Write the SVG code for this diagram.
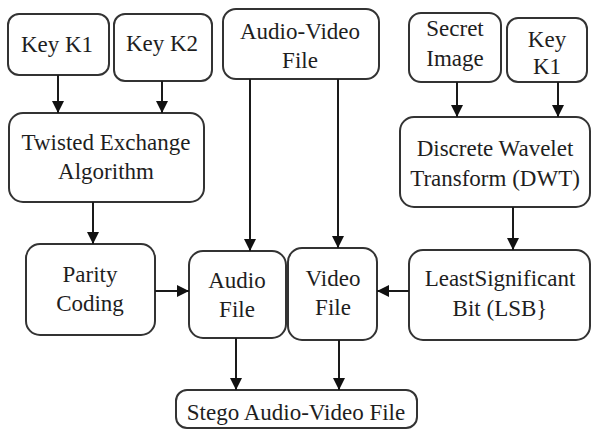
<svg xmlns="http://www.w3.org/2000/svg" width="592" height="432" viewBox="0 0 592 432">
  <style>
    .box { fill: #ffffff; stroke: #333333; stroke-width: 2; }
    .lbl { font-family: 'Liberation Serif', 'Times New Roman', serif; font-size: 23px; fill: #1e1e1e; text-anchor: middle; }
    .edge { stroke: #1a1a1a; stroke-width: 2; fill: none; marker-end: url(#arrow); }
  </style>
  <defs>
    <marker id="arrow" markerUnits="userSpaceOnUse" markerWidth="14" markerHeight="14" refX="12" refY="6" orient="auto">
      <path d="M0,0 L12,6 L0,12 z" fill="#111111"/>
    </marker>
  </defs>
  <rect width="592" height="432" fill="#ffffff"/>

  <g id="key-k1">
    <rect class="box" x="8" y="14" width="101" height="61" rx="11"/>
    <text class="lbl" x="57" y="52">Key K1</text>
  </g>
  <g id="key-k2">
    <rect class="box" x="114" y="14" width="98" height="67" rx="11"/>
    <text class="lbl" x="162" y="51">Key K2</text>
  </g>
  <g id="audio-video-file">
    <rect class="box" x="223" y="9" width="156" height="70" rx="13"/>
    <text class="lbl" x="300" y="39">Audio-Video</text>
    <text class="lbl" x="300" y="68">File</text>
  </g>
  <g id="secret-image">
    <rect class="box" x="409" y="13" width="92" height="69" rx="12"/>
    <text class="lbl" x="455" y="36">Secret</text>
    <text class="lbl" x="455" y="66">Image</text>
  </g>
  <g id="key-k1-b">
    <rect class="box" x="507" y="18" width="80" height="64" rx="11"/>
    <text class="lbl" x="547" y="47">Key</text>
    <text class="lbl" x="547" y="74">K1</text>
  </g>
  <g id="twisted-exchange">
    <rect class="box" x="9" y="113" width="195" height="89" rx="14"/>
    <text class="lbl" x="106" y="150">Twisted Exchange</text>
    <text class="lbl" x="106" y="179">Algorithm</text>
  </g>
  <g id="dwt">
    <rect class="box" x="400" y="117" width="190" height="90" rx="14"/>
    <text class="lbl" x="495" y="156">Discrete Wavelet</text>
    <text class="lbl" x="495" y="186">Transform (DWT)</text>
  </g>
  <g id="parity-coding">
    <rect class="box" x="26" y="244" width="129" height="91" rx="14"/>
    <text class="lbl" x="90" y="282">Parity</text>
    <text class="lbl" x="90" y="311">Coding</text>
  </g>
  <g id="audio-file">
    <rect class="box" x="189" y="251" width="97" height="87" rx="14"/>
    <text class="lbl" x="237" y="288">Audio</text>
    <text class="lbl" x="237" y="317">File</text>
  </g>
  <g id="video-file">
    <rect class="box" x="288" y="248" width="89" height="92" rx="14"/>
    <text class="lbl" x="333" y="286">Video</text>
    <text class="lbl" x="333" y="315">File</text>
  </g>
  <g id="lsb">
    <rect class="box" x="409" y="250" width="181" height="90" rx="14"/>
    <text class="lbl" x="500" y="286">LeastSignificant</text>
    <text class="lbl" x="500" y="316">Bit (LSB}</text>
  </g>
  <g id="stego-file">
    <rect class="box" x="176" y="390" width="241" height="38" rx="11"/>
    <text class="lbl" x="296" y="420">Stego Audio-Video File</text>
  </g>

  <g id="connectors">
    <line class="edge" x1="58" y1="75" x2="58" y2="113"/>
    <line class="edge" x1="162" y1="81" x2="162" y2="113"/>
    <line class="edge" x1="93" y1="202" x2="93" y2="244"/>
    <line class="edge" x1="250" y1="79" x2="250" y2="251"/>
    <line class="edge" x1="338" y1="79" x2="338" y2="248"/>
    <line class="edge" x1="457" y1="82" x2="457" y2="117"/>
    <line class="edge" x1="558" y1="82" x2="558" y2="117"/>
    <line class="edge" x1="513" y1="207" x2="513" y2="250"/>
    <line class="edge" x1="155" y1="291" x2="189" y2="291"/>
    <line class="edge" x1="409" y1="291" x2="377" y2="291"/>
    <line class="edge" x1="236" y1="338" x2="236" y2="390"/>
    <line class="edge" x1="339" y1="340" x2="339" y2="390"/>
  </g>
</svg>
